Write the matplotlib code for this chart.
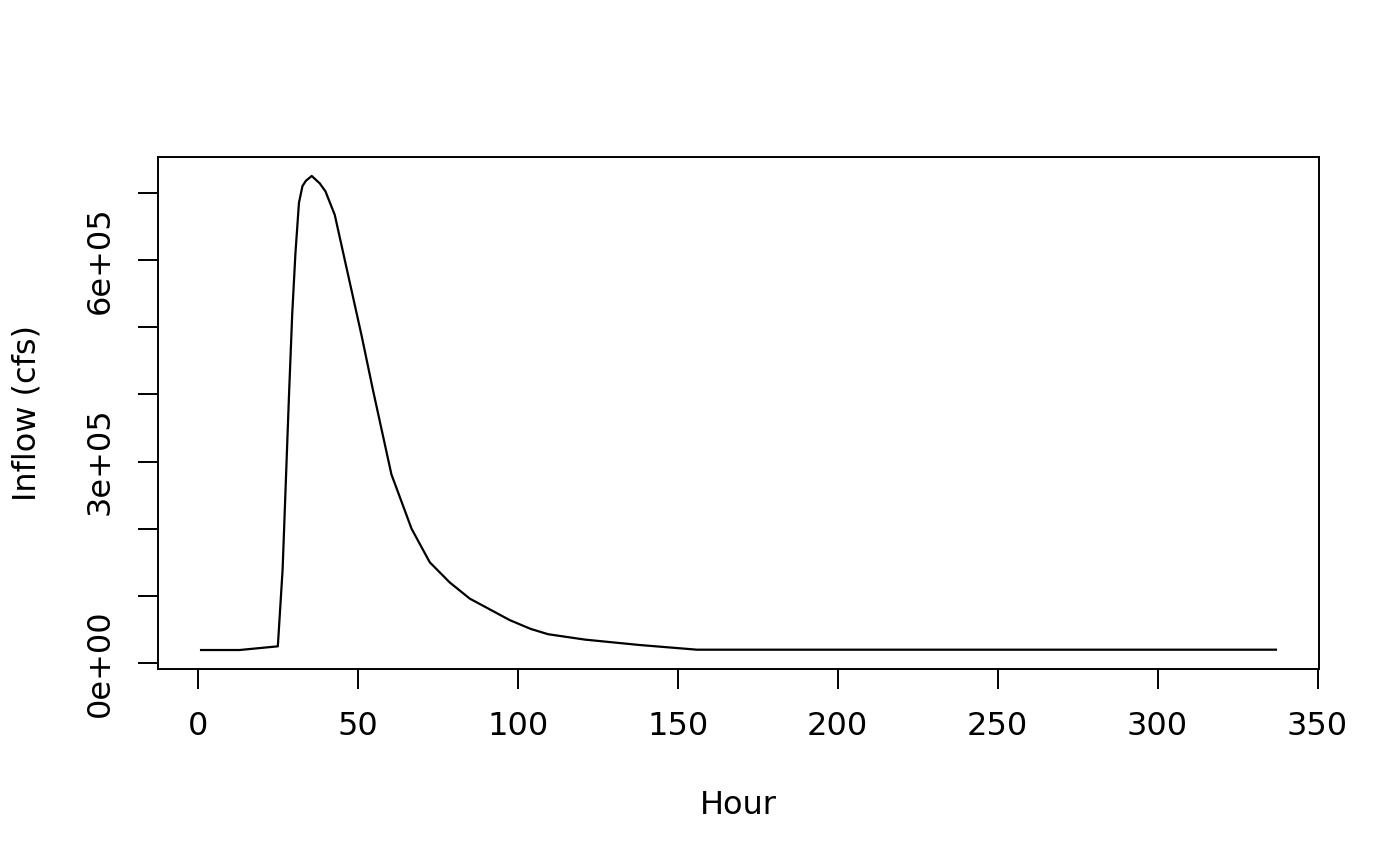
import matplotlib
matplotlib.use("Agg")
import matplotlib.pyplot as plt

# hydrograph
hour = [1, 13, 25, 26.5, 27.5, 28.5, 29.5, 30.5, 31.6, 32.7, 33.8, 35.6, 38.1,
        39.9, 42.8, 47, 51.2, 54.8, 60.5, 66.8, 72.5, 78.75, 85, 91.25, 97.5,
        104, 109.5, 121, 138, 156, 337]
inflow = [19500, 19500, 25000, 140000, 270000, 400000, 520000, 610000, 685000,
          710000, 718000, 725000, 714000, 702000, 667000, 577000, 487000,
          405000, 281000, 200000, 150000, 120000, 96000, 80000, 64000,
          51000, 43000, 35000, 27000, 20000, 20000]

xticks = [0, 50, 100, 150, 200, 250, 300, 350]
yticks = [0, 100000, 200000, 300000, 400000, 500000, 600000, 700000]
ytick_labels = ["0e+00", "", "", "3e+05", "", "", "6e+05", ""]

plt.rcParams['font.family'] = ['DejaVu Sans']
fs = 23

fig = plt.figure(figsize=(14, 8.66), dpi=100)
ax = fig.add_axes([0.1129, 0.2275, 0.8292, 0.5912])

ax.plot(hour, inflow, color='black', lw=1.6)

# R style 4% padding round the data
xr = max(hour) - min(hour)
yr = max(inflow) - min(inflow)
ax.set_xlim(min(hour) - 0.04 * xr, max(hour) + 0.04 * xr)
ax.set_ylim(min(inflow) - 0.04 * yr, max(inflow) + 0.04 * yr)

ax.set_xticks(xticks)
ax.set_xticklabels([str(t) for t in xticks], fontsize=fs)
ax.set_yticks(yticks)
ax.set_yticklabels(ytick_labels, fontsize=fs, rotation=90, va='center')

for sp in ax.spines.values():
    sp.set_linewidth(1.4)
ax.tick_params(axis='both', length=14.4, width=1.4, direction='out')
ax.tick_params(axis='x', pad=16)
ax.tick_params(axis='y', pad=16)

fig.text(0.5273, 1 - 805 / 866, "Hour", fontsize=fs, ha='center', va='center')
fig.text(27 / 1400, 1 - 413 / 866, "Inflow (cfs)", fontsize=fs,
         ha='center', va='center', rotation=90)

fig.savefig("out.png", dpi=100)
